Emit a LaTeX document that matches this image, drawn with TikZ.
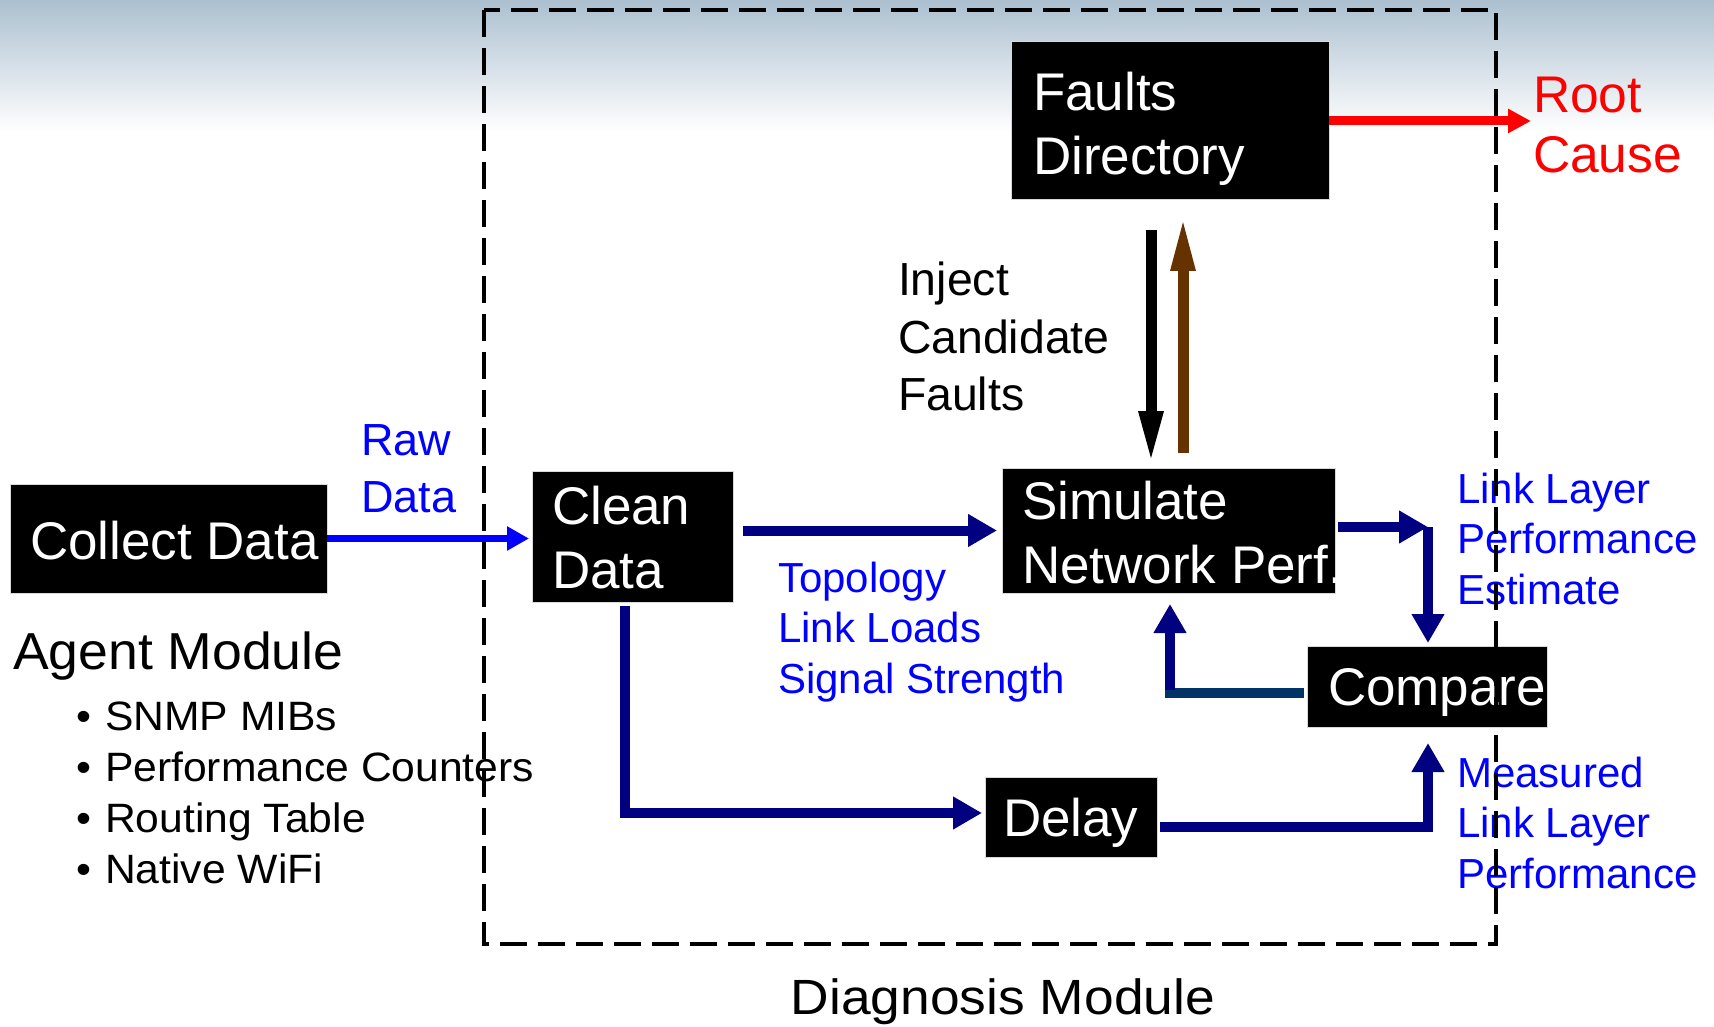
\documentclass[tikz,border=0pt]{standalone}
\usepackage{fontspec}
\setmainfont{Liberation Sans}
\usetikzlibrary{arrows.meta,calc}

\definecolor{navyline}{RGB}{0,0,128}
\definecolor{tealline}{RGB}{0,51,102}
\definecolor{brownline}{RGB}{102,51,0}
\definecolor{labelblue}{RGB}{0,0,255}
\definecolor{rootred}{RGB}{255,0,0}
\definecolor{skytop}{RGB}{172,192,208}
\definecolor{skymid}{RGB}{224,234,240}

\begin{document}
\begin{tikzpicture}[x=0.5pt,y=-0.5pt,
  blk/.style={fill=black, draw=black!15, line width=0.5pt, inner sep=0pt, outer sep=0pt, anchor=north west},
  wtxt/.style={text=white, font=\fontsize{26.5}{32}\selectfont, inner sep=0pt, outer sep=0pt, align=left},
  bluelbl/.style={text=labelblue, font=\fontsize{21}{25.25}\selectfont, inner sep=0pt, outer sep=0pt, align=left, anchor=north west},
  plaintxt/.style={text=black, inner sep=0pt, outer sep=0pt, align=left},
  navyarr/.style={draw=navyline, line width=5pt, -{Triangle[length=14.5pt,width=15.5pt]}},
  tealln/.style={draw=tealline, line width=5pt},
  blackarr/.style={draw=black, line width=5.5pt, -{Triangle[length=27pt,width=11pt]}},
  brownarr/.style={draw=brownline, line width=5.5pt, -{Triangle[length=28pt,width=11pt]}},
  redarr/.style={draw=rootred, line width=4.5pt, -{Triangle[length=11.5pt,width=11.5pt]}},
  bluearr/.style={draw=labelblue, line width=3.5pt, -{Triangle[length=11pt,width=11.5pt]}},
  modframe/.style={draw=black, line width=1.6pt, dash pattern=on 13.5pt off 5.5pt}
]
\useasboundingbox (0,0) rectangle (1714,1027);

% sky-coloured band along the top edge
\shade[top color=skytop, middle color=skymid, bottom color=white] (0,0) rectangle (1714,132);

% process boxes
\node[blk, minimum width=158.5pt, minimum height=54.5pt] (collect) at (10,484) {};
\node[blk, minimum width=100.5pt, minimum height=65.5pt] (clean) at (532,471) {};
\node[blk, minimum width=159pt, minimum height=79pt] (faults) at (1011,42) {};
\node[blk, minimum width=166.5pt, minimum height=62.5pt] (simulate) at (1002,468) {};
\node[blk, minimum width=120pt, minimum height=40.5pt] (compare) at (1307,646) {};
\node[blk, minimum width=86pt, minimum height=40pt] (delay) at (985,777) {};

% box captions
\node[wtxt, anchor=base west] (collecttxt) at (30,559) {Collect Data};
\node[wtxt, anchor=north west] (cleantxt) at (552,486) {Clean\\Data};
\node[wtxt, anchor=north west] (faultstxt) at (1033,72) {Faults\\Directory};
\node[wtxt, anchor=north west] (simulatetxt) at (1022,481) {Simulate\\Network Perf.};
\node[wtxt, anchor=base west] (comparetxt) at (1328,705) {Compare};
\node[wtxt, anchor=base west] (delaytxt) at (1003,836) {Delay};

% helper points for the elbow connectors
\coordinate (estcorner) at (1428,527);
\coordinate (feedcorner) at (1170,693);

% labels
\node[plaintxt, text=labelblue, font=\fontsize{22.5}{28.5}\selectfont, anchor=north west] (rawdata) at (361,425) {Raw\\Data};
\node[plaintxt, font=\fontsize{23.2}{28.75}\selectfont, anchor=north west] (inject) at (898,262) {Inject\\Candidate\\Faults};
\node[plaintxt, text=rootred, font=\fontsize{25.8}{30}\selectfont, anchor=north west] (rootcause) at (1533,77) {Root\\Cause};
\node[bluelbl] (topology) at (778,562) {Topology\\Link Loads\\Signal Strength};
\node[bluelbl] (estimate) at (1457,473) {Link Layer\\Performance\\Estimate};
\node[bluelbl] (measured) at (1457,757) {Measured\\Link Layer\\Performance};
\node[plaintxt, font=\fontsize{26}{31}\selectfont, anchor=base west] (agent) at (13,669) {\scalebox{1.03}[1]{Agent Module}};
\node[plaintxt, font=\fontsize{20.5}{25.5}\selectfont, anchor=north west] (sources) at (76,695)
  {\scalebox{1.04}[1]{\begin{tabular}{@{}l@{}}\makebox[14pt][l]{•}SNMP MIBs\\\makebox[14pt][l]{•}Performance Counters\\\makebox[14pt][l]{•}Routing Table\\\makebox[14pt][l]{•}Native WiFi\end{tabular}}};
\node[plaintxt, font=\fontsize{24.75}{30}\selectfont, anchor=base] (diagnosis) at (1003,1014) {\scalebox{1.078}[1]{Diagnosis Module}};

% connectors
\draw[bluearr] (collect.east) -- ($(collect.east -| clean.west)+(-3,0)$);
\draw[navyarr] ($(clean.east |- simulate.west)+(10,0)$) -- ($(simulate.west)+(-5,0)$);
\draw[navyarr] ($(clean.south)+(-7.5,4)$) |- ($(delay.west)+(-3,-4)$);
\draw[navyarr] ($(delay.east)+(3,10)$) -| ($(compare.south)+(1,16)$);
\draw[navyarr] ($(simulate.east |- estcorner)+(3,0)$) -- (estcorner);
\draw[navyarr] (estcorner) -- ($(estcorner |- compare.north)+(0,-3)$);
\draw[tealln] ($(compare.west |- feedcorner)+(-3,0)$) -- ($(feedcorner)+(-5,0)$);
\draw[navyarr] ($(feedcorner)+(0,-3)$) -- ($(feedcorner |- simulate.south)+(0,11)$);
\draw[blackarr] ($(faults.south)+(-19,30)$) -- ($(faults.south |- simulate.north)+(-19,-3)$);
\draw[brownarr] ($(faults.south |- simulate.north)+(13,-15)$) -- ($(faults.south)+(13,15)$);
\draw[redarr] (faults.east) -- ($(faults.east -| rootcause.west)+(-2,0)$);

% dashed outline of the diagnosis module
\draw[modframe] (484,10) rectangle (1496,944);
\end{tikzpicture}
\end{document}
